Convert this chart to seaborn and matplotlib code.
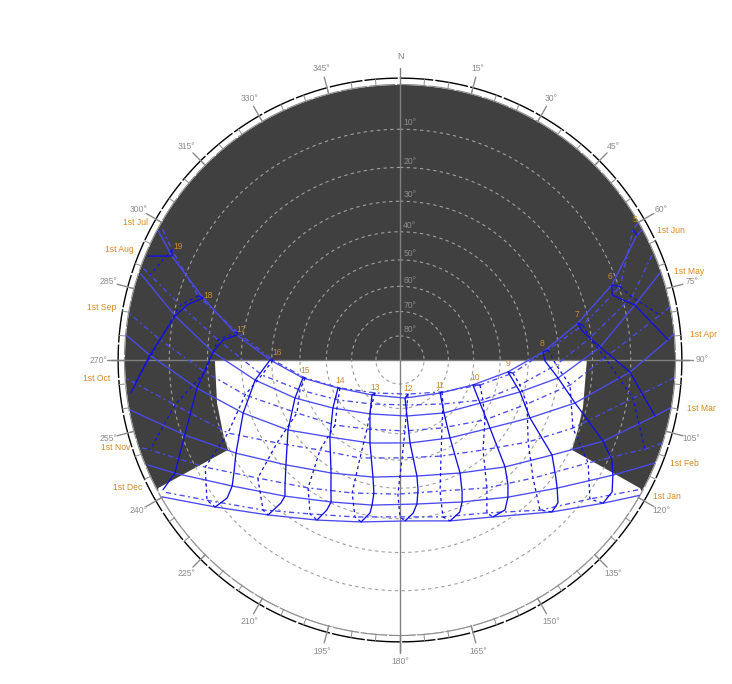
import numpy as np
import pandas as pd
import matplotlib
matplotlib.use('Agg')
import matplotlib.pyplot as plt
import seaborn as sns

n = np.nan

# sun position, one column each: sunrise, 5h ... 19h, sunset
columns = ['rise', 5, 6, 7, 8, 9, 10, 11, 12, 13, 14, 15, 16, 17, 18, 19, 'set']

jan_az = [119.5, n, n, n, 125.2, 135.0, 149.4, 162.7, 178.2, 193.5, 207.4, 220.4, 231.5, n, n, n, 240.1]
jan_alt = [0.0, n, n, n, 5.8, 14.0, 22.9, 27.0, 29.3, 27.6, 23.5, 17.0, 8.7, n, n, n, 0.1]
feb_az = [112.0, n, n, n, 118.4, 129.2, 141.8, 156.4, 173.3, 190.9, 205.9, 220.2, 233.1, 243.3, n, n, 247.4]
feb_alt = [0.0, n, n, n, 7.3, 17.2, 25.2, 31.2, 34.4, 33.5, 30.3, 24.1, 15.3, 5.0, n, n, 0.4]
mar_az = [100.0, n, n, 102.4, 111.8, 122.0, 135.5, 152.0, 171.7, 193.0, 211.4, 227.4, 240.4, 250.8, n, n, 259.5]
mar_alt = [0.0, n, n, 3.0, 13.0, 23.8, 32.8, 40.1, 43.8, 42.8, 38.6, 31.2, 21.1, 10.7, n, n, 0.1]
apr_az = [84.6, n, 85.7, 93.0, 103.8, 114.0, 127.1, 147.3, 173.1, 199.9, 222.3, 238.0, 251.3, 262.1, 271.1, n, 275.2]
apr_alt = [0.0, n, 1.3, 10.1, 23.5, 35.3, 45.4, 52.8, 56.2, 54.4, 48.5, 38.7, 27.9, 16.6, 5.4, n, 0.0]
may_az = [71.5, n, 76.8, 86.3, 96.5, 104.9, 118.3, 140.3, 172.9, 209.1, 234.4, 250.1, 262.1, 272.4, 281.1, n, 288.4]
may_alt = [0.2, n, 7.5, 17.8, 29.9, 41.4, 53.4, 61.9, 66.8, 64.7, 56.6, 45.8, 34.0, 21.5, 10.4, n, 0.4]
jun_az = [61.8, 62.2, 70.5, 78.3, 86.8, 96.3, 108.9, 129.5, 172.5, 218.7, 245.7, 259.5, 270.0, 278.7, 287.5, 294.5, 298.1]
jun_alt = [0.1, 1.5, 11.5, 23.1, 35.0, 46.9, 58.7, 68.6, 74.1, 71.5, 62.2, 50.5, 39.4, 28.1, 16.2, 5.3, 0.2]
jul_az = [60.1, 60.8, 71.6, 79.2, 86.1, 96.6, 107.4, 127.3, 166.8, 217.1, 245.0, 259.3, 270.0, 279.7, 287.6, 295.8, 299.3]
jul_alt = [0.1, 1.7, 9.7, 21.8, 33.3, 45.1, 56.1, 68.3, 75.5, 72.9, 62.9, 51.3, 40.4, 28.0, 14.8, 4.7, 0.2]
aug_az = [67.4, n, 74.8, 83.4, 91.8, 101.8, 115.7, 135.7, 171.2, 212.5, 237.2, 253.3, 263.8, 276.3, 284.0, 288.8, 289.7]
aug_alt = [0.4, n, 7.7, 20.4, 30.8, 42.0, 53.0, 64.8, 71.2, 68.5, 60.0, 48.4, 36.4, 22.7, 11.0, 2.3, 0.4]
sep_az = [78.9, n, 80.2, 89.4, 98.4, 109.1, 125.2, 148.3, 176.0, 205.6, 225.0, 242.8, 257.3, 266.5, 274.8, n, 279.8]
sep_alt = [0.0, n, 2.4, 16.6, 26.0, 37.9, 48.6, 57.6, 61.0, 58.9, 53.0, 44.3, 30.0, 19.2, 7.6, n, 0.0]
oct_az = [93.7, n, n, 99.3, 111.5, 122.6, 137.3, 156.9, 178.8, 202.2, 221.6, 236.0, 247.0, 258.7, 265.0, n, 266.2]
oct_alt = [0.0, n, n, 8.7, 21.9, 32.1, 42.0, 48.4, 50.8, 47.9, 42.7, 33.3, 21.6, 10.3, 1.9, n, 0.1]
nov_az = [107.6, n, n, 110.0, 118.7, 131.6, 145.8, 163.0, 180.9, 199.8, 215.7, 230.3, 241.2, 250.2, n, n, 251.2]
nov_alt = [0.0, n, n, 3.1, 14.1, 24.2, 31.3, 37.0, 38.0, 35.6, 30.4, 22.2, 12.1, 2.0, n, n, 0.5]
dec_az = [118.6, n, n, n, 126.2, 137.0, 150.4, 164.7, 180.0, 196.0, 210.3, 222.4, 234.0, n, n, n, 240.9]
dec_alt = [0.8, n, n, n, 8.9, 16.5, 24.8, 28.8, 30.6, 28.6, 24.1, 17.1, 8.1, n, n, n, 0.8]

# last stub of the evening hour lines, out to the horizon
tail_hours = [19, 18, 17]
tail_az = [292.4, 263.0, 241.3]
tail_alt = [0.5, 0.8, 1.0]

# extra points where the solid hour lines bend between the month rows
bend_hours = [8, 9, 10, 11, 12, 13, 14, 15, 16,
              8, 9, 10, 11, 12, 13, 14, 15, 16,
              6, 7, 8, 17, 18]
bend_after = [4.5] * 9 + [5.5] * 9 + [1.5] * 5
bend_az = [115.3, 127.1, 139.2, 154.8, 172.1, 191.1, 208.0, 222.6, 236.0,
           121.9, 132.1, 145.0, 158.5, 175.1, 191.1, 206.0, 219.8, 231.4,
           73.0, 80.9, 90.4, 276.4, 284.5]
bend_alt = [9.1, 19.2, 28.0, 34.1, 39.0, 37.5, 33.7, 26.6, 17.9,
            5.5, 14.5, 22.7, 28.6, 31.6, 30.9, 27.5, 21.8, 12.4,
            12.2, 22.3, 34.4, 24.1, 12.7]

# unshaded window, east edge then west edge
window_east_az = [90.0, 104.4, 111.5, 117.6, 118.1]
window_east_alt = [21.6, 21.0, 20.4, 19.6, 0.6]
window_west_az = [242.1, 242.4, 247.6, 256.8, 270.0]
window_west_alt = [0.3, 19.6, 20.3, 21.3, 22.1]

altitude_rings = [10, 20, 30, 40, 50, 60, 70, 80]
azimuth_labels = list(range(15, 360, 15))

hour_labels = ['5', '6', '7', '8', '9', '10', '11', '12', '13', '14', '15', '16', '17', '18', '19']
hour_label_az = [59.2, 68.2, 75.7, 83.2, 91.6, 103.5, 123.0, 164.1, 221.8, 250.7, 263.4, 273.3, 280.7, 288.7, 297.0]
hour_label_r = [0.995, 0.822, 0.664, 0.520, 0.393, 0.280, 0.173, 0.106, 0.136, 0.231, 0.348, 0.448, 0.588, 0.737, 0.906]

date_labels = ['1st Jun', '1st May', '1st Apr', '1st Mar', '1st Feb', '1st Jan',
               '1st Jul', '1st Aug', '1st Sep', '1st Oct', '1st Nov', '1st Dec']
date_label_az = [64.4, 72.9, 85.1, 99.2, 110.1, 117.0, 297.5, 291.4, 279.9, 266.6, 252.8, 244.8]
date_label_r = [1.093, 1.100, 1.106, 1.109, 1.100, 1.090, 1.086, 1.097, 1.100, 1.104, 1.082, 1.093]

sns.set_theme(style='white')
plt.rcParams['font.family'] = ['Liberation Sans', 'DejaVu Sans']


def stereo(alt):
    # stereographic projection, horizon at r = 1
    return np.tan(np.radians((90 - np.asarray(alt, dtype=float)) / 2))


months = {'Jan': (jan_az, jan_alt), 'Feb': (feb_az, feb_alt), 'Mar': (mar_az, mar_alt),
          'Apr': (apr_az, apr_alt), 'May': (may_az, may_alt), 'Jun': (jun_az, jun_alt),
          'Jul': (jul_az, jul_alt), 'Aug': (aug_az, aug_alt), 'Sep': (sep_az, sep_alt),
          'Oct': (oct_az, oct_alt), 'Nov': (nov_az, nov_alt), 'Dec': (dec_az, dec_alt)}

frames = []
for name, (az, alt) in months.items():
    frames.append(pd.DataFrame({'month': name, 'col': columns,
                                'theta': np.radians(az), 'r': stereo(alt)}))
sun = pd.concat(frames, ignore_index=True).dropna(subset=['theta'])

fig = plt.figure(figsize=(7.32, 6.84), dpi=100)
rmax_px = 310
ax = fig.add_axes([(400 - rmax_px) / 732, (324 - rmax_px) / 684, 2 * rmax_px / 732, 2 * rmax_px / 684],
                  projection='polar')
ax.set_theta_zero_location('N')
ax.set_theta_direction(-1)
ax.set_rlim(0, rmax_px / 275)
ax.axis('off')

# shading
circle = np.radians(np.arange(0, 360.5, 0.5))
ax.fill(circle, np.ones_like(circle), color='#404040', lw=0, zorder=1)
rim = np.arange(118.5, 242, 0.5)
win_theta = np.radians(np.concatenate([window_east_az, rim, window_west_az]))
win_r = np.concatenate([stereo(window_east_alt), np.ones_like(rim), stereo(window_west_alt)])
ax.fill(win_theta, win_r, color='white', lw=0, zorder=2)

# grid
for alt in altitude_rings:
    ax.plot(circle, np.full_like(circle, stereo(alt)), color='#a0a0a0', lw=0.8, ls=(0, (3, 3)), zorder=3)
    ax.annotate(f'{alt}°', xy=(0, stereo(alt)), xytext=(7, 4.5), textcoords='offset points',
                ha='center', va='center', fontsize=6.2, color='#8c8c8c', zorder=7)
ax.plot(circle, np.full_like(circle, 1.002), color='#8c8c8c', lw=0.8, ls=(0, (24, 1.5)), zorder=3)
ax.plot(circle, np.full_like(circle, 1.025), color='black', lw=1.0, ls=(0, (24, 1.5)), zorder=3)
for az in range(0, 360, 5):
    ax.plot(np.radians([az, az]), [1.0, 1.025], color='#8c8c8c', lw=0.7, zorder=3)
for az in azimuth_labels:
    ax.plot(np.radians([az, az]), [1.0, 1.065], color='#8c8c8c', lw=1.0, zorder=3)
    ax.text(np.radians(az), 1.098, f'{az}°', ha='center', va='center', fontsize=6.2, color='#8c8c8c')
ax.plot(np.radians([0, 0]), [0, 1.062], color='#808080', lw=1.0, zorder=4)
ax.plot(np.radians([180, 180]), [0, 1.062], color='#808080', lw=1.0, zorder=4)
ax.plot(np.radians([90, 90]), [0, 1.05], color='#808080', lw=1.0, zorder=4)
ax.plot(np.radians([270, 270]), [0, 1.05], color='#808080', lw=1.0, zorder=4)
ax.text(0, 1.103, 'N', ha='center', va='center', fontsize=6.5, color='#808080')

# date lines, first half of the year solid, second half dash-dot
first_half = ['Jan', 'Feb', 'Mar', 'Apr', 'May', 'Jun']
date_solid = sun[sun['month'].isin(first_half)]
date_dash = sun[~sun['month'].isin(first_half)]
sns.lineplot(data=date_solid, x='theta', y='r', units='month', estimator=None, sort=False,
             color='#4a4af0', lw=0.95, zorder=5, ax=ax, legend=False)
sns.lineplot(data=date_dash, x='theta', y='r', units='month', estimator=None, sort=False,
             color='#4a4af0', lw=0.95, linestyle=(0, (4, 2.5, 1.5, 2.5)), zorder=5, ax=ax, legend=False)

# hour lines
hour_rows = sun[~sun['col'].isin(['rise', 'set'])]
solid_order = ['Jul', 'Jun', 'May', 'Apr', 'Mar', 'Feb', 'Jan']
dash_order = ['Jul', 'Aug', 'Sep', 'Oct', 'Nov', 'Dec', 'Jan']


def hour_table(order):
    t = hour_rows[hour_rows['month'].isin(order)].copy()
    t['hour'] = t['col'].astype(int)
    t['order'] = t['month'].map(order.index).astype(float)
    return t.sort_values(['hour', 'order'])


tails = pd.DataFrame({'hour': tail_hours, 'order': 99.0, 'theta': np.radians(tail_az), 'r': stereo(tail_alt)})
bends = pd.DataFrame({'hour': bend_hours, 'order': bend_after, 'theta': np.radians(bend_az), 'r': stereo(bend_alt)})
hour_solid = pd.concat([hour_table(solid_order), tails, bends], ignore_index=True).sort_values(['hour', 'order'])
hour_dash = hour_table(dash_order)
sns.lineplot(data=hour_solid, x='theta', y='r', units='hour', estimator=None, sort=False,
             color='#1010e0', lw=0.95, zorder=6, ax=ax, legend=False)
sns.lineplot(data=hour_dash, x='theta', y='r', units='hour', estimator=None, sort=False,
             color='#1010e0', lw=0.9, linestyle=(0, (2.5, 2.5)), zorder=6, ax=ax, legend=False)
ax.set_xlabel('')
ax.set_ylabel('')

for label, az, r in zip(hour_labels, hour_label_az, hour_label_r):
    ax.text(np.radians(az), r, label, ha='center', va='center', fontsize=6.2, color='#cc8a2e', zorder=8)
for label, az, r in zip(date_labels, date_label_az, date_label_r):
    ax.text(np.radians(az), r, label, ha='center', va='center', fontsize=6.2, color='#d98a1f', zorder=8)

fig.savefig('out.png', dpi=100, facecolor='white')
